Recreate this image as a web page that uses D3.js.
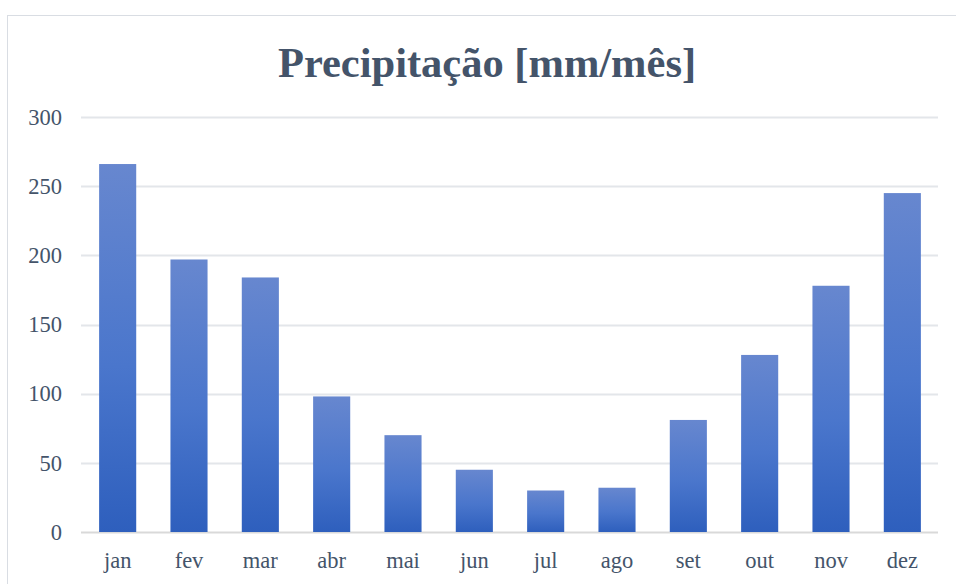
<!DOCTYPE html>
<html lang="en">
<head>
<meta charset="UTF-8">
<title>Precipitação</title>
<style>
  body { margin: 0; background: #fff; }
</style>
</head>
<body>
<div class="canvas"></div>
<script src="https://cdnjs.cloudflare.com/ajax/libs/d3/7.8.5/d3.min.js"></script>
<script>
const months = ["jan", "fev", "mar", "abr", "mai", "jun", "jul", "ago", "set", "out", "nov", "dez"];
const rainfall = [266, 197, 184, 98, 70, 45, 30, 32, 81, 128, 178, 245];
const yTicks = [0, 50, 100, 150, 200, 250, 300];

const width = 956, height = 584;
const margin = { top: 117, right: 18, bottom: 52, left: 82 };

const svg = d3.select(".canvas").append("svg")
    .attr("width", width)
    .attr("height", height)
    .style("font-family", "'Liberation Serif', 'Times New Roman', serif");

// chart frame
svg.append("rect")
    .attr("x", 7.5).attr("y", 15.5)
    .attr("width", width).attr("height", height)
    .attr("fill", "#fff")
    .attr("stroke", "#d9dde3");

const grad = svg.append("defs").append("linearGradient")
    .attr("id", "barGrad")
    .attr("x1", 0).attr("y1", 0).attr("x2", 0).attr("y2", 1);
grad.append("stop").attr("offset", "0%").attr("stop-color", "#6787cf");
grad.append("stop").attr("offset", "55%").attr("stop-color", "#4a76cc");
grad.append("stop").attr("offset", "100%").attr("stop-color", "#2e5fbd");

const x = d3.scaleBand()
    .domain(months)
    .range([margin.left, width - margin.right])
    .paddingInner(0.48)
    .paddingOuter(0.24);

const y = d3.scaleLinear()
    .domain([0, 300])
    .range([height - margin.bottom, margin.top]);

// gridlines
svg.append("g")
    .selectAll("line")
    .data(yTicks)
    .join("line")
        .attr("x1", margin.left - 1)
        .attr("x2", width - margin.right)
        .attr("y1", d => Math.round(y(d)) + 0.5)
        .attr("y2", d => Math.round(y(d)) + 0.5)
        .attr("stroke", d => d === 0 ? "#d9d9d9" : "#e3e6ea")
        .attr("stroke-width", 2);

// bars
svg.append("g")
    .selectAll("rect")
    .data(rainfall)
    .join("rect")
        .attr("x", (d, i) => x(months[i]))
        .attr("y", d => y(d))
        .attr("width", x.bandwidth())
        .attr("height", d => y(0) - y(d))
        .attr("fill", "url(#barGrad)");

// y axis labels
const yAxis = d3.axisLeft(y).tickValues(yTicks).tickSize(0).tickPadding(0);
svg.append("g")
    .attr("transform", `translate(${margin.left - 20},0)`)
    .call(yAxis)
    .call(g => g.select(".domain").remove())
    .call(g => g.selectAll("text")
        .attr("fill", "#44546a")
        .attr("font-size", 22.5)
        .attr("font-family", "'Liberation Serif', 'Times New Roman', serif"));

// x axis labels
const xAxis = d3.axisBottom(x).tickSize(0).tickPadding(0);
svg.append("g")
    .attr("transform", `translate(0,${height - margin.bottom + 20})`)
    .call(xAxis)
    .call(g => g.select(".domain").remove())
    .call(g => g.selectAll("text")
        .attr("fill", "#44546a")
        .attr("font-size", 22.5)
        .attr("font-family", "'Liberation Serif', 'Times New Roman', serif"));

// title
svg.append("text")
    .attr("x", 487)
    .attr("y", 77)
    .attr("text-anchor", "middle")
    .attr("font-size", 42.5)
    .attr("font-weight", "bold")
    .attr("fill", "#44546a")
    .text("Precipitação [mm/mês]");
</script>
</body>
</html>
